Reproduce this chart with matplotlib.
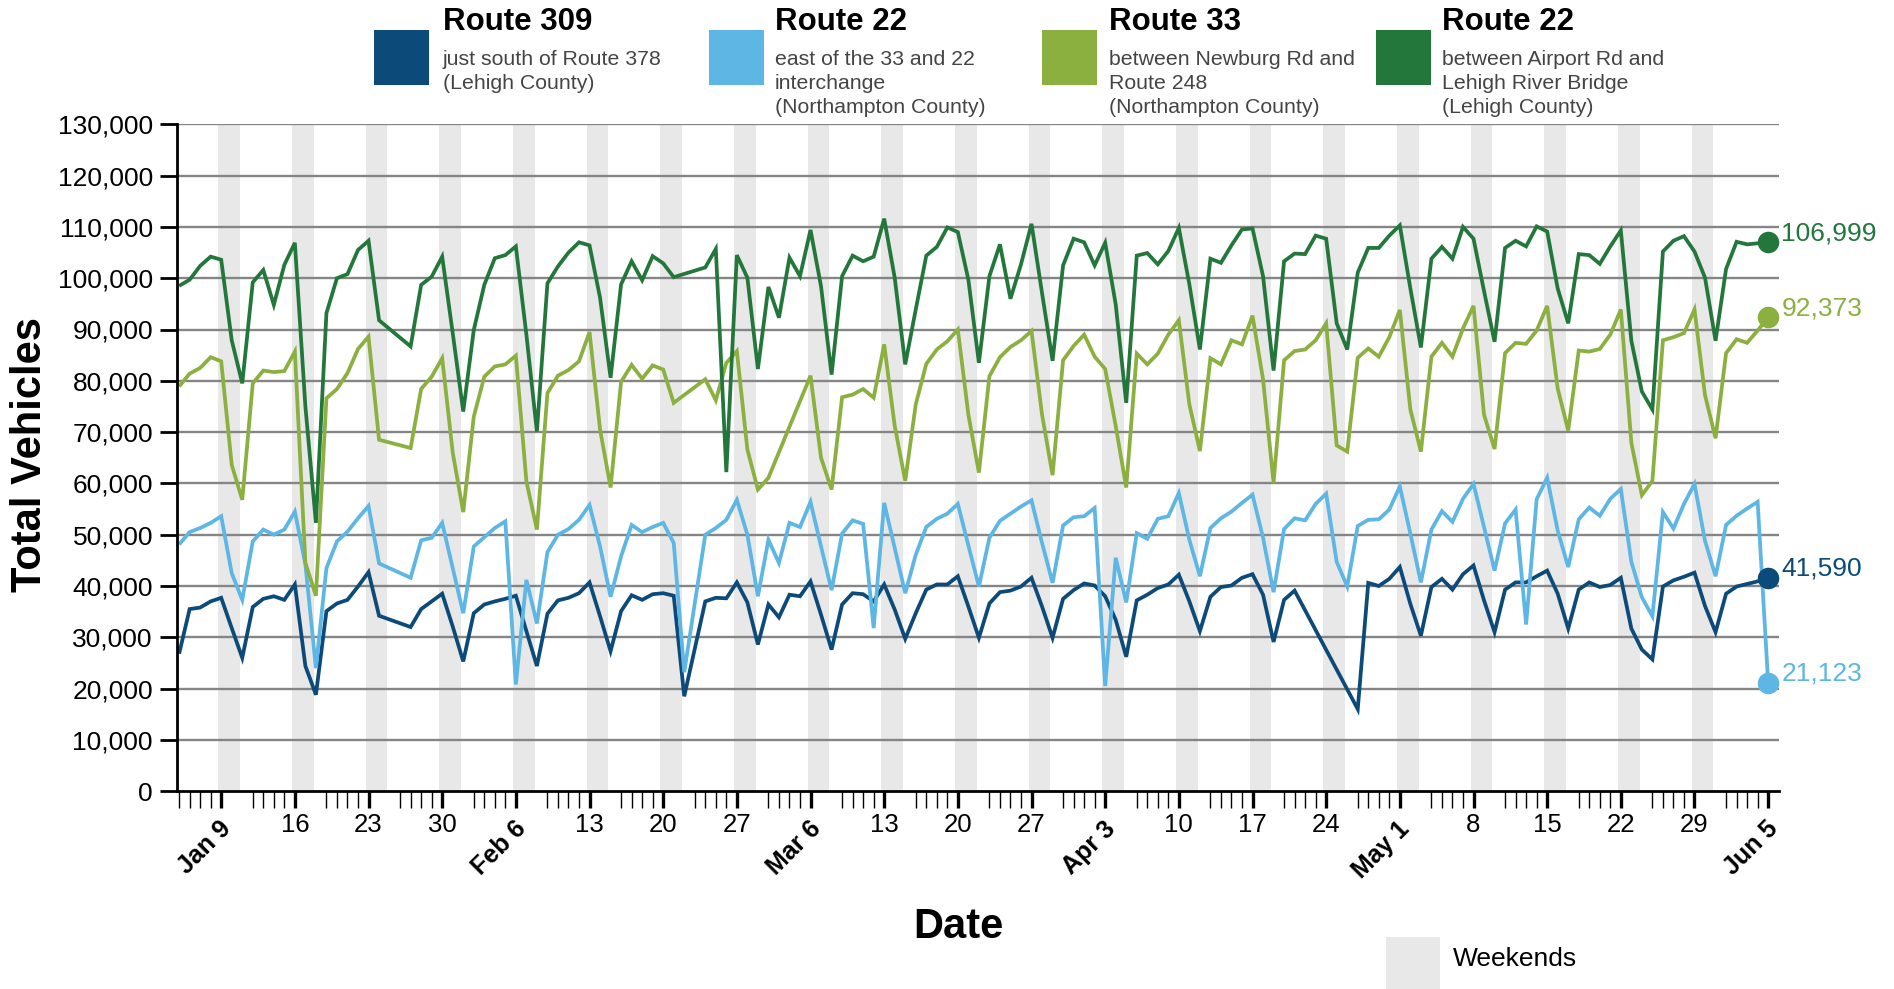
import numpy as np
import pandas as pd
import matplotlib
matplotlib.use('Agg')
import matplotlib.pyplot as plt
import matplotlib.dates as mdates
from matplotlib.patches import Rectangle

plt.rcParams['font.family'] = ['Liberation Sans', 'DejaVu Sans']

# ---------------- data (thousands of vehicles; None = no count) ----------------
dates = pd.date_range('2022-01-05', '2022-06-05', freq='D')

route309_378 = [
    26.8, 35.5, 35.8, 37.0, 37.7, 31.8, 26.0, 35.9, 37.5, 38.0, 37.3, 40.3, 24.4, 18.8,
    35.1, 36.6, 37.3, 39.9, 42.7, 34.2, None, None, 32.0, 35.5, 37.0, 38.5, 32.1, 25.3,
    34.7, 36.4, 37.0, 37.5, 38.1, 31.2, 24.4, 34.6, 37.2, 37.7, 38.6, 40.7, 34.1, 27.3,
    35.1, 38.2, 37.3, 38.4, 38.6, 38.1, 18.5, None, 37.0, 37.7, 37.6, 40.7, 36.8, 28.6,
    36.4, 33.9, 38.3, 38.0, 40.9, 34.4, 27.6, 36.4, 38.6, 38.4, 37.0, 40.3, 35.4, 29.7,
    34.7, 39.3, 40.3, 40.3, 41.9, 36.0, 29.9, 36.6, 38.8, 39.1, 39.9, 41.6, 36.0, 29.9,
    37.5, 39.2, 40.5, 40.1, 38.0, 33.4, 26.2, 37.2, 38.3, 39.6, 40.3, 42.2, 37.0, 31.2,
    37.9, 39.8, 40.1, 41.6, 42.3, 38.3, 29.1, 37.3, 39.1, None, None, None, None, None,
    16.0, 40.6, 40.0, 41.4, 43.7, 36.5, 30.3, 39.8, 41.4, 39.3, 42.3, 44.0, 37.2, 31.0,
    39.3, 40.7, 40.7, 41.9, 43.0, 38.5, 31.7, 39.3, 40.7, 39.8, 40.2, 41.6, 31.7, 27.6,
    25.7, 39.9, 41.1, 41.8, 42.6, 36.1, 31.0, 38.5, 39.9, 40.4, 40.9, 41.590,
]

route22_east = [
    48.1, 50.5, 51.3, 52.3, 53.6, 42.5, 37.3, 48.7, 51.0, 50.0, 51.0, 54.5, 44.2, 24.0,
    43.5, 48.7, 50.6, 53.2, 55.6, 44.4, None, None, 41.6, 48.9, 49.4, 52.3, 43.5, 34.7,
    47.7, 49.5, 51.3, 52.6, 20.8, 41.2, 32.7, 46.6, 50.0, 51.1, 52.9, 55.8, 47.7, 37.9,
    45.8, 51.9, 50.5, 51.5, 52.3, 48.4, 23.2, None, 50.0, 51.3, 52.9, 56.8, 50.0, 38.0,
    49.0, 44.5, 52.3, 51.5, 56.4, 47.7, 39.2, 50.2, 52.8, 52.1, 31.8, 56.2, 47.4, 38.6,
    46.1, 51.5, 53.1, 54.1, 56.0, 47.9, 39.9, 49.4, 52.7, 54.1, 55.5, 56.7, 48.4, 40.6,
    51.8, 53.4, 53.6, 55.2, 20.5, 45.5, 36.8, 50.3, 49.2, 53.1, 53.6, 58.1, 49.0, 41.9,
    51.3, 53.2, 54.5, 56.2, 57.8, 49.4, 38.8, 51.1, 53.2, 52.8, 56.0, 58.0, 44.7, 39.9,
    51.7, 52.9, 53.0, 54.9, 59.4, 50.2, 40.7, 51.0, 54.6, 52.5, 57.0, 59.9, 51.5, 43.0,
    52.2, 54.9, 32.5, 56.9, 61.1, 50.8, 43.7, 53.0, 55.3, 53.7, 57.0, 58.9, 44.7, 37.8,
    34.1, 54.4, 51.2, 56.0, 59.9, 48.8, 41.9, 51.9, 53.7, 55.1, 56.4, 21.123,
]

route33_newburg = [
    78.9, 81.4, 82.5, 84.6, 83.8, 63.6, 56.8, 79.5, 82.0, 81.7, 81.9, 85.7, 44.5, 38.1,
    76.6, 78.4, 81.5, 86.2, 88.6, 68.5, None, None, 66.9, 78.4, 80.8, 84.4, 66.0, 54.4,
    73.0, 80.8, 82.8, 83.2, 84.9, 60.4, 51.0, 77.6, 81.0, 82.1, 83.8, 89.5, 70.5, 59.2,
    79.8, 83.1, 80.4, 83.0, 82.2, 75.7, None, None, 80.3, 76.2, 83.5, 85.8, 66.6, 58.8,
    61.1, None, None, None, 81.0, 65.0, 58.8, 76.8, 77.3, 78.4, 76.7, 87.1, 71.2, 60.5,
    75.4, 83.3, 86.1, 87.7, 90.0, 73.4, 62.1, 80.9, 84.6, 86.6, 87.9, 89.7, 73.4, 61.6,
    84.0, 86.8, 89.0, 84.7, 82.3, 71.2, 59.2, 85.3, 83.2, 85.3, 89.0, 91.8, 75.4, 66.3,
    84.4, 83.2, 87.9, 87.1, 92.7, 80.3, 60.1, 84.0, 85.8, 86.1, 87.9, 91.2, 67.4, 66.2,
    84.5, 86.3, 84.7, 88.5, 93.8, 74.4, 66.2, 84.7, 87.4, 84.7, 90.2, 94.6, 73.4, 66.7,
    85.4, 87.4, 87.2, 89.8, 94.6, 78.5, 70.3, 85.9, 85.7, 86.2, 89.0, 93.9, 67.9, 57.7,
    60.5, 87.9, 88.5, 89.3, 93.9, 77.2, 68.8, 85.4, 88.1, 87.4, 89.8, 92.373,
]

route22_airport = [
    98.5, 99.7, 102.4, 104.2, 103.6, 87.9, 79.5, 99.2, 101.6, 94.8, 102.6, 106.9, 75.0, 52.3,
    93.2, 100.0, 100.8, 105.5, 107.3, 91.8, None, None, 86.7, 98.7, 100.3, 104.2, 89.3, 74.0,
    89.9, 98.7, 103.9, 104.5, 106.2, 89.0, 70.1, 99.0, 102.3, 105.0, 107.0, 106.4, 96.2, 80.6,
    98.8, 103.3, 99.6, 104.3, 102.9, 100.2, None, None, 102.1, 105.7, 62.2, 104.5, 100.1, 82.3,
    98.3, 92.3, 104.0, 100.4, 109.4, 98.4, 81.2, 100.4, 104.4, 103.3, 104.2, 111.6, 100.1, 83.2,
    93.9, 104.4, 106.1, 109.9, 109.0, 99.7, 83.5, 100.4, 106.6, 96.0, 102.7, 110.6, 97.1, 83.9,
    102.5, 107.7, 107.0, 102.5, 106.9, 94.9, 75.7, 104.4, 104.9, 102.7, 105.3, 109.8, 98.8, 86.1,
    103.8, 103.0, 106.4, 109.5, 109.7, 100.4, 82.0, 103.3, 104.8, 104.7, 108.3, 107.7, 91.2, 86.1,
    101.1, 105.9, 105.9, 108.3, 110.3, 98.0, 86.5, 103.8, 106.1, 103.8, 110.0, 107.7, 97.5, 87.6,
    105.9, 107.3, 106.2, 110.1, 109.1, 98.0, 91.2, 104.7, 104.5, 102.8, 106.2, 109.3, 87.8, 77.9,
    74.4, 105.2, 107.3, 108.2, 105.2, 100.1, 87.8, 101.8, 107.1, 106.6, 106.8, 106.999,
]

series_titles = ['Route 309', 'Route 22', 'Route 33', 'Route 22']
series_notes = [
    ['just south of Route 378', '(Lehigh County)'],
    ['east of the 33 and 22', 'interchange', '(Northampton County)'],
    ['between Newburg Rd and', 'Route 248', '(Northampton County)'],
    ['between Airport Rd and', 'Lehigh River Bridge', '(Lehigh County)'],
]
series_colors = ['#0c4a79', '#5db6e4', '#8bb040', '#23773b']
series_values = [route309_378, route22_east, route33_newburg, route22_airport]

month_first_sundays = ['2022-01-09', '2022-02-06', '2022-03-06', '2022-04-03',
                       '2022-05-01', '2022-06-05']

# ---------------- figure ----------------
W, H = 1894, 989
fig = plt.figure(figsize=(W / 100, H / 100), dpi=100)


def fx(px):
    return px / W


def fy(py):
    return 1 - py / H


ax_left, ax_right, ax_top, ax_bot = 177, 1779, 124.3, 791.2
ax = fig.add_axes([fx(ax_left), fy(ax_bot), (ax_right - ax_left) / W, (ax_bot - ax_top) / H])

x = mdates.date2num(dates)
x0 = x[0]
ax.set_xlim(x0 - 0.2, x0 + 152.03)
ax.set_ylim(0, 130000)

sundays = pd.date_range('2022-01-09', '2022-06-05', freq='7D')
sx = mdates.date2num(sundays)

# weekend bands
for s in sx[:-1]:
    ax.axvspan(s - 0.27, s + 1.79, color='#e8e8e8', lw=0, zorder=0)

# horizontal gridlines
for v in range(10000, 130001, 10000):
    ax.axhline(v, color='#858585', lw=1.7, zorder=1)

# series
for vals, col in zip(series_values, series_colors):
    arr = np.array([np.nan if v is None else v for v in vals], dtype=float) * 1000
    m = ~np.isnan(arr)
    ax.plot(x[m], arr[m], color=col, lw=2.7, zorder=3, solid_joinstyle='miter',
            solid_capstyle='butt')
    last = arr[m][-1]
    ax.plot([x[m][-1]], [last], 'o', color=col, ms=14.5, zorder=4, clip_on=False)
    ax.annotate(f'{int(round(last)):,}', (x[m][-1], last), xytext=(9.5, 6.5),
                textcoords='offset points', ha='left', va='center', fontsize=19,
                color=col, annotation_clip=False)

# spines
for sp in ['top', 'right']:
    ax.spines[sp].set_visible(False)
for sp in ['left', 'bottom']:
    ax.spines[sp].set_linewidth(2.0)
    ax.spines[sp].set_color('black')
    ax.spines[sp].set_zorder(5)

# y ticks
yt = list(range(0, 130001, 10000))
ax.set_yticks(yt)
ax.set_yticklabels([f'{v:,}' for v in yt])
ax.tick_params(axis='y', length=12.3, width=2.0, labelsize=19, pad=5, color='black')

# x ticks
day_idx = np.arange(len(dates))
offs = (day_idx - 4) % 7
ax.set_xticks(sx)
ax.set_xticks(x[(offs != 0) & (offs != 1) & (offs != 2)], minor=True)
ax.tick_params(axis='x', which='major', length=12.3, width=2.4, labelbottom=False, color='black')
ax.tick_params(axis='x', which='minor', length=12.3, width=1.0, labelbottom=False, color='black')

trans = ax.get_xaxis_transform()
ylab = -34 / (ax_bot - ax_top)
mfs = set(pd.to_datetime(month_first_sundays))
for s, sd in zip(sx, sundays):
    if sd in mfs:
        ax.text(s + 0.6, ylab, sd.strftime('%b ') + str(sd.day), transform=trans, rotation=45,
                rotation_mode='anchor', ha='right', va='center', fontsize=18,
                fontweight='bold', clip_on=False)
    else:
        ax.text(s, ylab, str(sd.day), transform=trans, ha='center', va='center',
                fontsize=18.5, clip_on=False)

# axis titles
fig.text(fx(30), fy(455), 'Total Vehicles', rotation=90, ha='center', va='center',
         fontsize=30, fontweight='bold')
fig.text(fx(958), fy(927.5), 'Date', ha='center', va='center', fontsize=30, fontweight='bold')

# legend
sq_x = [374, 709, 1042, 1376]
tx_x = [443, 775, 1109, 1442]
for i in range(4):
    fig.add_artist(Rectangle((fx(sq_x[i]), fy(85)), 55 / W, 55 / H, transform=fig.transFigure,
                             color=series_colors[i], lw=0))
    fig.text(fx(tx_x[i]), fy(21.5), series_titles[i], ha='left', va='center', fontsize=22.5,
             fontweight='bold')
    for j, line in enumerate(series_notes[i]):
        fig.text(fx(tx_x[i]), fy(59.5 + 24 * j), line, ha='left', va='center', fontsize=15.3,
                 color='#444444')

fig.add_artist(Rectangle((fx(1386), fy(989)), 54 / W, 52 / H, transform=fig.transFigure,
                         color='#e8e8e8', lw=0))
fig.text(fx(1453), fy(958.5), 'Weekends', ha='left', va='center', fontsize=19)

fig.savefig('out.png', dpi=100)
